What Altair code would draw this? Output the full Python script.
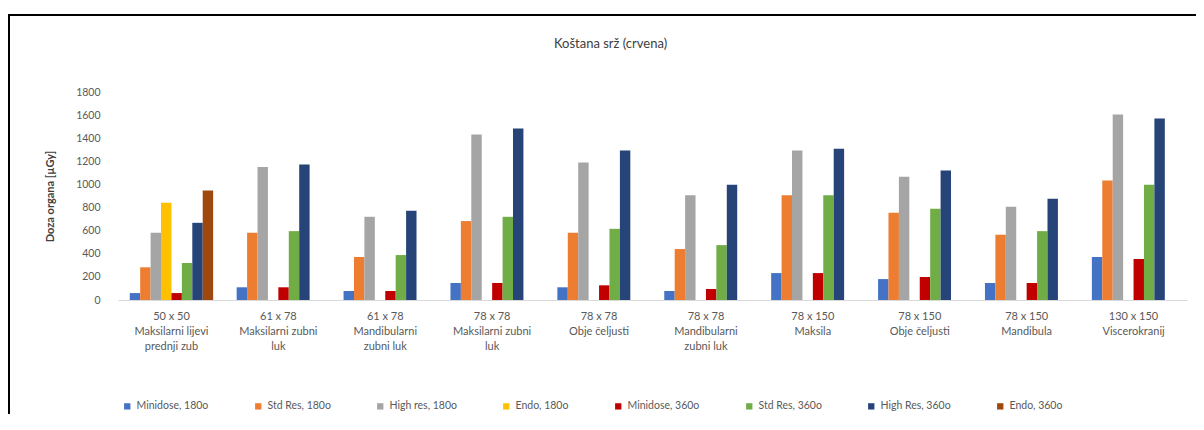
import altair as alt
import pandas as pd

categories = [
    "50 x 50|Maksilarni lijevi|prednji zub",
    "61 x 78|Maksilarni zubni|luk",
    "61 x 78|Mandibularni|zubni luk",
    "78 x 78|Maksilarni zubni|luk",
    "78 x 78|Obje čeljusti",
    "78 x 78|Mandibularni|zubni luk ",
    "78 x 150|Maksila",
    "78 x 150|Obje čeljusti",
    "78 x 150|Mandibula",
    "130 x 150|Viscerokranij",
]
series = [
    "Minidose, 180o", "Std Res, 180o", "High res, 180o", "Endo, 180o",
    "Minidose, 360o", "Std Res, 360o", "High Res, 360o", "Endo, 360o",
]
colors = ["#4472C4", "#ED7D31", "#A5A5A5", "#FFC000",
          "#C00000", "#70AD47", "#264478", "#9E480E"]

minidose_180 = [60, 110, 78, 147, 110, 78, 233, 181, 147, 372]
std_180 = [283, 582, 372, 683, 582, 441, 907, 755, 565, 1034]
high_180 = [582, 1152, 720, 1432, 1190, 907, 1294, 1066, 807, 1605]
endo_180 = [841, None, None, None, None, None, None, None, None, None]
minidose_360 = [60, 110, 78, 147, 127, 95, 233, 199, 147, 354]
std_360 = [320, 596, 389, 720, 616, 475, 907, 789, 596, 997]
high_360 = [668, 1173, 772, 1484, 1294, 997, 1308, 1121, 876, 1570]
endo_360 = [948, None, None, None, None, None, None, None, None, None]

values = [minidose_180, std_180, high_180, endo_180,
          minidose_360, std_360, high_360, endo_360]

rows = []
for s, vals in zip(series, values):
    for c, v in zip(categories, vals):
        if v is not None:
            rows.append({"cat": c, "series": s, "dose": v})
df = pd.DataFrame(rows)

FONT = "Lato"
GREY = "#595959"

bars = alt.Chart(df).mark_bar().encode(
    x=alt.X("cat:N", sort=categories,
            scale=alt.Scale(domain=categories, paddingInner=0.22, paddingOuter=0.11),
            axis=alt.Axis(title=None, labelAngle=0, ticks=False, domainColor="#D9D9D9",
                          labelExpr="split(datum.label, '|')", labelLineHeight=15,
                          labelPadding=10, labelFontSize=11, labelColor=GREY,
                          labelFont=FONT, labelLimit=200)),
    xOffset=alt.XOffset("series:N", sort=series,
                        scale=alt.Scale(domain=series, paddingInner=0, paddingOuter=0)),
    y=alt.Y("dose:Q", scale=alt.Scale(domain=[0, 1800]),
            axis=alt.Axis(title="Doza organa [µGy]", values=list(range(0, 1801, 200)),
                          format="d", grid=False, domain=False, ticks=False, labelPadding=18,
                          labelFontSize=10.5, labelColor=GREY, labelFont=FONT,
                          titleFont=FONT, titleFontSize=11, titleColor="#404040",
                          titleFontWeight="bold", titleX=-63)),
    color=alt.Color("series:N", sort=series,
                    scale=alt.Scale(domain=series, range=colors),
                    legend=alt.Legend(title=None, orient="none", direction="horizontal",
                                      legendX=4, legendY=309, symbolType="square",
                                      symbolSize=40, symbolStrokeWidth=0,
                                      labelFontSize=10.5, labelColor=GREY, labelFont=FONT,
                                      columnPadding=44, symbolOffset=0)),
)

edge = pd.DataFrame({"k": [0]})
frame_left = alt.Chart(edge).mark_rule(color="black", strokeWidth=2).encode(
    x=alt.value(-109), y=alt.value(-77), y2=alt.value(600),
)
frame_top = alt.Chart(edge).mark_rule(color="black", strokeWidth=2).encode(
    x=alt.value(-110), x2=alt.value(1150), y=alt.value(-77),
)

chart = alt.layer(bars, frame_left, frame_top).properties(
    width=1069, height=208,
    title=alt.TitleParams("Koštana srž (crvena)", font=FONT, fontSize=13,
                          fontWeight="normal", color="#404040", offset=-37, dx=-42),
    autosize=alt.AutoSizeParams(type="none"),
    padding={"left": 110, "top": 84, "right": 9, "bottom": 114},
).configure_view(stroke=None)

chart.save("out.html", embed_options={"renderer": "svg", "actions": False})
